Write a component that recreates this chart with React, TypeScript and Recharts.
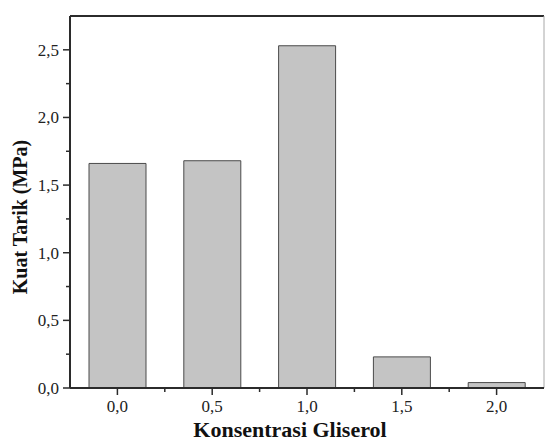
import React from 'react'
import { BarChart, Bar, XAxis, YAxis, ReferenceLine, Label } from 'recharts'

const concentrations = [0, 0.5, 1.0, 1.5, 2.0]
const tensileStrength = [1.66, 1.68, 2.53, 0.23, 0.04]
const xTicks = [-0.25, 0, 0.25, 0.5, 0.75, 1.0, 1.25, 1.5, 1.75, 2.0]
const yTicks = [0, 0.25, 0.5, 0.75, 1.0, 1.25, 1.5, 1.75, 2.0, 2.25, 2.5]

const data = concentrations.map((c, i) => ({ conc: c, value: tensileStrength[i] }))

const FONT = '"Liberation Serif", "Times New Roman", serif'
const AXIS = '#2b2b2b'

const isMajor = (v: number) => Math.abs(v * 2 - Math.round(v * 2)) < 1e-6
const fmt = (v: number) => v.toFixed(1).replace('.', ',')

const XTick = (props: any) => {
  const { x, y, payload } = props
  const v = payload.value
  if (v < -0.01) return null
  const major = isMajor(v)
  return (
    <g>
      <line x1={x} x2={x} y1={y} y2={y + (major ? 7 : 4)} stroke={AXIS} strokeWidth={1.5} />
      {major && (
        <text x={x} y={y + 24} textAnchor="middle" fontFamily={FONT} fontSize={17} fill="#222">
          {fmt(v)}
        </text>
      )}
    </g>
  )
}

const YTick = (props: any) => {
  const { x, y, payload } = props
  const v = payload.value
  const major = isMajor(v)
  return (
    <g>
      <line x1={x} x2={x - (major ? 7 : 4)} y1={y} y2={y} stroke={AXIS} strokeWidth={1.5} />
      {major && (
        <text x={x - 11} y={y + 6} textAnchor="end" fontFamily={FONT} fontSize={17} fill="#222">
          {fmt(v)}
        </text>
      )}
    </g>
  )
}

export default function App() {
  return (
    <div style={{ position: 'absolute', left: 0, top: 0 }}>
      <BarChart width={545} height={444} data={data} margin={{ top: 16, right: 1, bottom: 0, left: 0 }}>
        <XAxis
          dataKey="conc"
          type="number"
          domain={[-0.25, 2.25]}
          ticks={xTicks}
          interval={0}
          tickLine={false}
          tickSize={0}
          tickMargin={0}
          tick={<XTick />}
          axisLine={{ stroke: AXIS, strokeWidth: 2 }}
          height={56}
          allowDataOverflow
        >
          <Label
            content={() => (
              <text x={290} y={437} textAnchor="middle" fontFamily={FONT} fontWeight="bold" fontSize={22} fill="#111">
                Konsentrasi Gliserol
              </text>
            )}
          />
        </XAxis>
        <YAxis
          type="number"
          domain={[0, 2.75]}
          ticks={yTicks}
          interval={0}
          tickLine={false}
          tickSize={0}
          tickMargin={0}
          tick={<YTick />}
          axisLine={{ stroke: AXIS, strokeWidth: 2 }}
          width={70}
          allowDataOverflow
        >
          <Label
            content={() => (
              <text
                x={27}
                y={217}
                textAnchor="middle"
                transform="rotate(-90 27 217)"
                fontFamily={FONT}
                fontWeight="bold"
                fontSize={20}
                fill="#111"
              >
                Kuat Tarik (MPa)
              </text>
            )}
          />
        </YAxis>
        <ReferenceLine y={2.75} stroke={AXIS} strokeWidth={2} ifOverflow="visible" />
        <ReferenceLine x={2.25} stroke="#a8a8a8" strokeWidth={1} ifOverflow="visible" />
        <Bar dataKey="value" fill="#c4c4c4" stroke="#4a4a4a" strokeWidth={1} barSize={57} isAnimationActive={false} />
      </BarChart>
    </div>
  )
}
